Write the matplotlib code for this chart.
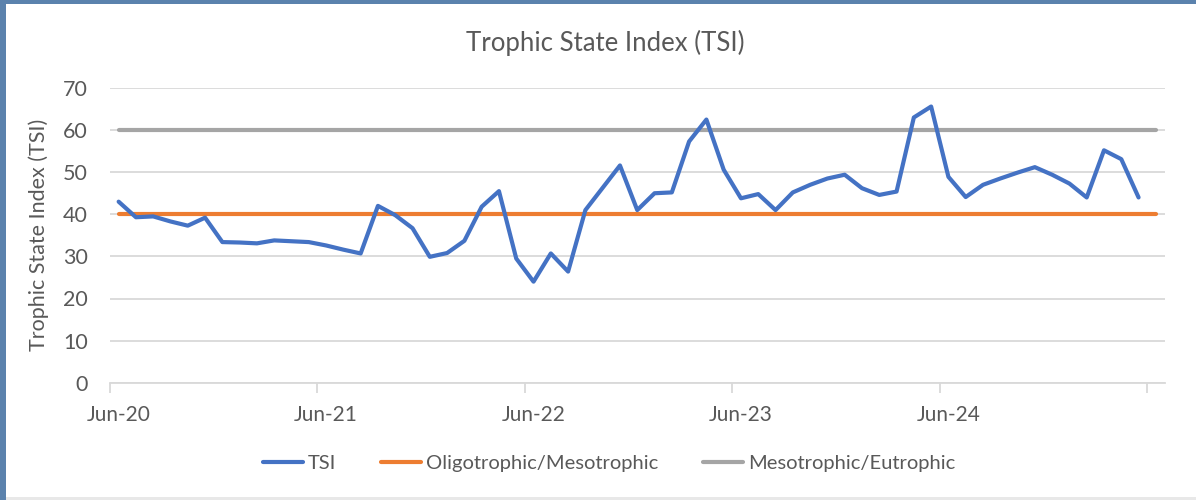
import numpy as np
import pandas as pd
import matplotlib
matplotlib.use("Agg")
import matplotlib.pyplot as plt
from matplotlib.patches import Rectangle

plt.rcParams['font.family'] = ['Lato', 'DejaVu Sans']

# monthly samples, Jun 2020 .. Jun 2025 (last month has no TSI value)
months = pd.date_range('2020-06-01', periods=61, freq='MS')
tsi = [43.0, 39.3, 39.5, 38.3, 37.3, 39.2, 33.4, 33.3, 33.1, 33.8, 33.6, 33.4,
       32.6, 31.6, 30.7, 42.0, 39.8, 36.7, 29.9, 30.8, 33.7, 41.8, 45.5, 29.5,
       24.0, 30.7, 26.4, 41.0, 46.3, 51.6, 41.0, 45.0, 45.2, 57.3, 62.5, 50.6,
       43.8, 44.8, 41.0, 45.2, 47.0, 48.5, 49.4, 46.2, 44.6, 45.4, 63.0, 65.6,
       48.9, 44.1, 47.0, 48.5, 49.9, 51.2, 49.4, 47.3, 44.0, 55.2, 53.1, 44.0]
oligo_meso = [40] * len(months)
meso_eu = [60] * len(months)

x = np.arange(len(months))

fig = plt.figure(figsize=(11.96, 5.0), dpi=100)
fig.patch.set_facecolor('#5b82ad')
# white chart area inside the screenshot border
fig.patches.append(Rectangle((6 / 1196, 3 / 500), 1 - 6 / 1196, 1 - 7 / 500,
                             transform=fig.transFigure, facecolor='white',
                             edgecolor='none', zorder=-2))
fig.patches.append(Rectangle((6 / 1196, 0), 1, 3 / 500, transform=fig.transFigure,
                             facecolor='#e8e8e8', edgecolor='none', zorder=-2))

ax = fig.add_axes([110 / 1196, (500 - 382.7) / 500, (1164.5 - 110) / 1196, (382.7 - 88) / 500])
ax.set_facecolor('none')
ax.set_zorder(1)

ax.plot(x[:len(tsi)], tsi, color='#4472c4', lw=3.0, solid_joinstyle='round',
        solid_capstyle='round', label='TSI', zorder=4)
ax.plot(x, oligo_meso, color='#ed7d31', lw=3.0, solid_capstyle='round',
        label='Oligotrophic/Mesotrophic', zorder=3)
ax.plot(x, meso_eu, color='#a5a5a5', lw=3.0, solid_capstyle='round',
        label='Mesotrophic/Eutrophic', zorder=3)

ax.set_ylim(0, 70)
ax.set_yticks(range(0, 71, 10))
ax.set_xlim(-0.5, len(months) - 0.5)
ax.grid(axis='y', color='#d9d9d9', lw=1.3)
ax.set_axisbelow(True)

# year ticks at month boundaries, labels centred on the June buckets
tick_pos = np.arange(0, len(months), 12)
ax.set_xticks(tick_pos - 0.5)
ax.set_xticklabels([])
ax.set_xticks(tick_pos[:-1], minor=True)
ax.set_xticklabels([m.strftime('%b-%y') for m in months[tick_pos[:-1]]], minor=True)
ax.tick_params(axis='x', which='major', length=7, color='#d9d9d9', width=1.3)
ax.tick_params(axis='x', which='minor', length=0, pad=16, labelsize=15, labelcolor='#595959')
ax.tick_params(axis='y', length=0, pad=16, labelsize=15.5, labelcolor='#595959')

for s in ['top', 'right', 'left']:
    ax.spines[s].set_visible(False)
ax.spines['bottom'].set_color('#d9d9d9')
ax.spines['bottom'].set_linewidth(1.3)

ax.set_ylabel('Trophic State Index (TSI)', fontsize=15.5, color='#595959', labelpad=10)
fig.text(605 / 1196, 1 - 43 / 500, 'Trophic State Index (TSI)', ha='center', va='center',
         fontsize=18.5, color='#595959')

fig.legend(loc='center', bbox_to_anchor=(609 / 1196, 1 - 463 / 500), ncol=3, frameon=False,
           fontsize=14.5, labelcolor='#595959', handlelength=2.0, handletextpad=0.25,
           columnspacing=2.2)

fig.savefig('out.png', dpi=100, facecolor=fig.get_facecolor())
